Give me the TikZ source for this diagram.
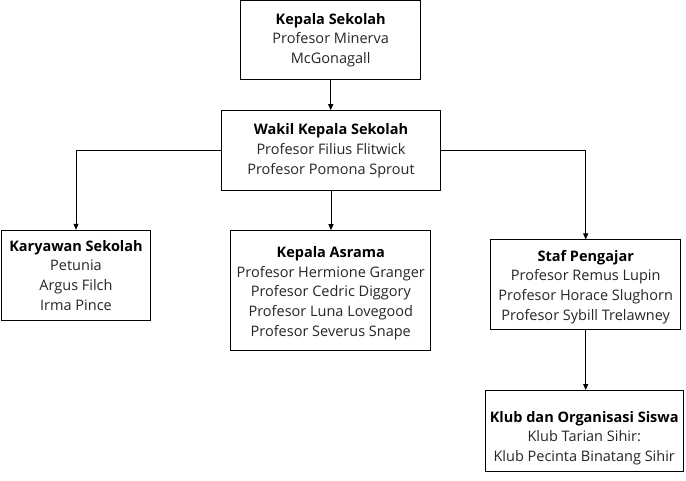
\documentclass[tikz,border=0pt]{standalone}
\usepackage{fontspec}
\setmainfont{Open Sans}
\usetikzlibrary{arrows.meta}
\begin{document}
\begin{tikzpicture}[x=1pt,y=-1pt,
  box/.style={draw=black, line width=1pt, fill=white, align=center, inner sep=0pt,
    font=\fontsize{14.5}{19.6}\selectfont, text=black!85},
  conn/.style={draw=black, line width=1pt, -{Triangle[length=6pt,width=5pt]}}]
\useasboundingbox (0,0) rectangle (686,481);
\node[box, minimum width=180pt, minimum height=79.5pt] (kepala) at (330.7,40.2)
  {\textbf{\color{black}Kepala Sekolah}\\Profesor Minerva\\McGonagall};
\node[box, minimum width=219.5pt, minimum height=80pt] (wakil) at (331,150.7)
  {\textbf{\color{black}Wakil Kepala Sekolah}\\Profesor Filius Flitwick\\Profesor Pomona Sprout};
\node[box, minimum width=149.5pt, minimum height=90pt] (karyawan) at (76,275.3)
  {\textbf{\color{black}Karyawan Sekolah}\\Petunia\\Argus Filch\\Irma Pince};
\node[box, minimum width=200pt, minimum height=120pt] (asrama) at (330.8,290.7)
  {\rule{0pt}{16pt}\textbf{\color{black}Kepala Asrama}\\Profesor Hermione Granger\\Profesor Cedric Diggory\\Profesor Luna Lovegood\\Profesor Severus Snape};
\node[box, minimum width=190pt, minimum height=90pt] (staf) at (585.7,285)
  {\rule{0pt}{15pt}\textbf{\color{black}Staf Pengajar}\\Profesor Remus Lupin\\Profesor Horace Slughorn\\Profesor Sybill Trelawney};
\node[box, minimum width=198pt, minimum height=81pt] (klub) at (584.2,431)
  {\rule{0pt}{25pt}\textbf{\color{black}Klub dan Organisasi Siswa}\\Klub Tarian Sihir:\\Klub Pecinta Binatang Sihir};
\draw[conn] (kepala.south) -- (kepala.south |- wakil.north);
\draw[conn] (wakil.west) -| (karyawan.north);
\draw[conn] (wakil.south) -- (wakil.south |- asrama.north);
\draw[conn] (wakil.east) -| (staf.north);
\draw[conn] (staf.south) -- (staf.south |- klub.north);
\end{tikzpicture}
\end{document}
